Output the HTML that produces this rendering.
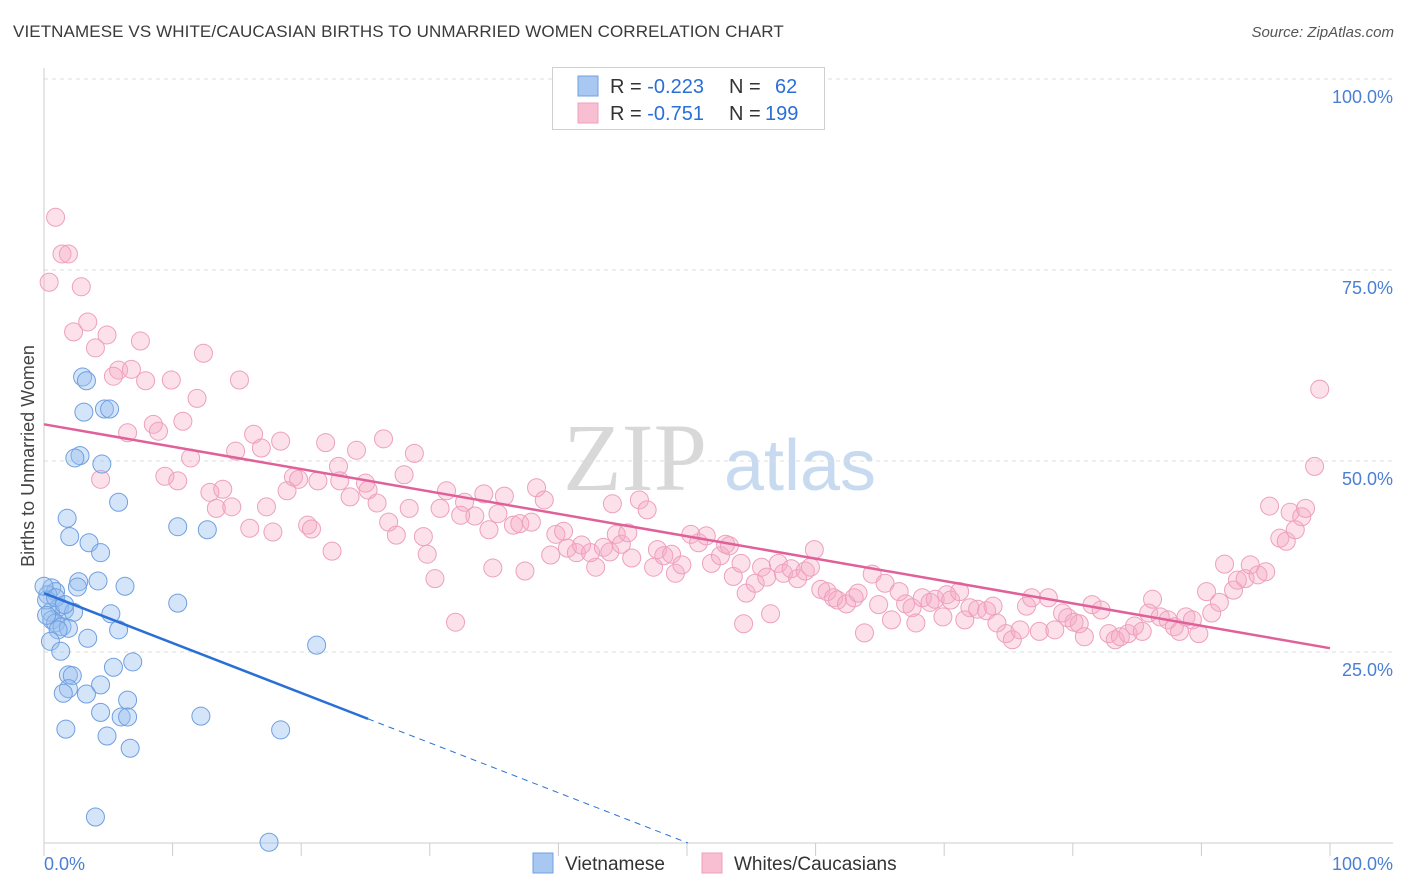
<!DOCTYPE html>
<html><head><meta charset="utf-8">
<style>
body{margin:0;background:#fff;font-family:"Liberation Sans",sans-serif;}
#wrap{position:relative;width:1406px;height:892px;overflow:hidden;}
.title{position:absolute;left:13px;top:22px;font-size:17px;color:#3a3a3a;letter-spacing:0.1px}
.src{position:absolute;right:12px;top:24px;font-size:15px;color:#555;font-style:italic}
</style></head><body>
<div id="wrap">
<div class="title">VIETNAMESE VS WHITE/CAUCASIAN BIRTHS TO UNMARRIED WOMEN CORRELATION CHART</div>
<div class="src">Source: ZipAtlas.com</div>
<svg id="chart" width="1406" height="892" style="position:absolute;left:0;top:0"></svg>
</div>
<script>
const yTicks=[25,50,75,100];
const yTickLabels=["25.0%","50.0%","75.0%","100.0%"];
const xTicks=[0,10,20,30,40,50,60,70,80,90,100];
const viePx=[[82,377],[87,381],[84,412],[105,409],[109,409],[80,456],[75,458],[102,464],[118,502],[67,518],[70,537],[89,543],[101,553],[178,527],[207,530],[79,582],[78,587],[98,581],[125,586],[52,588],[55,592],[48,595],[60,607],[64,610],[74,612],[50,612],[52,620],[56,623],[62,627],[68,628],[58,630],[111,614],[178,603],[118,630],[88,638],[50,641],[61,651],[316,645],[133,662],[114,667],[69,675],[72,676],[101,685],[69,689],[63,693],[86,694],[127,700],[100,712],[121,717],[127,717],[201,716],[66,729],[280,730],[107,736],[130,748],[95,817],[269,842],[47,600],[46,615],[44,586],[55,598],[65,605]];
const whPx=[[56,217],[62,254],[68,254],[49,282],[81,287],[88,322],[74,332],[107,335],[96,348],[140,341],[203,353],[119,370],[114,376],[131,369],[146,381],[171,380],[240,380],[197,398],[153,424],[183,421],[128,433],[158,431],[235,451],[254,434],[281,441],[261,448],[190,458],[165,476],[178,481],[101,479],[210,492],[223,489],[216,508],[232,507],[267,507],[250,528],[273,532],[307,525],[312,529],[332,551],[293,477],[299,479],[318,481],[287,491],[325,443],[339,466],[356,450],[384,439],[415,453],[404,475],[340,481],[365,483],[350,497],[368,490],[377,503],[389,522],[397,535],[409,508],[427,554],[423,537],[435,579],[455,622],[447,491],[440,508],[465,502],[475,516],[461,515],[484,494],[505,496],[498,514],[489,530],[513,525],[520,524],[531,522],[493,568],[525,571],[537,488],[544,500],[551,555],[556,534],[568,548],[563,531],[577,553],[581,545],[596,567],[590,553],[604,547],[610,552],[616,534],[622,544],[628,533],[613,504],[632,558],[640,500],[647,510],[653,567],[658,550],[664,556],[671,554],[676,573],[682,565],[691,534],[699,543],[706,536],[712,563],[720,556],[725,544],[729,546],[733,576],[741,563],[743,624],[746,593],[755,583],[762,567],[767,577],[771,614],[778,563],[783,573],[791,569],[798,579],[805,571],[811,567],[814,550],[821,589],[827,592],[833,598],[838,600],[846,604],[854,598],[858,593],[864,633],[872,574],[879,605],[885,583],[892,620],[899,592],[906,604],[912,608],[916,623],[922,598],[930,602],[935,599],[943,617],[947,595],[951,600],[960,592],[965,620],[970,608],[978,609],[986,611],[993,606],[997,623],[1006,634],[1013,640],[1020,630],[1026,606],[1032,598],[1040,631],[1048,598],[1055,630],[1062,613],[1068,618],[1074,622],[1079,624],[1084,637],[1092,605],[1101,610],[1109,634],[1115,640],[1120,637],[1128,634],[1135,626],[1142,631],[1149,613],[1152,599],[1160,617],[1168,620],[1175,627],[1180,631],[1186,617],[1193,620],[1199,634],[1206,592],[1212,613],[1220,602],[1224,564],[1233,590],[1238,580],[1245,579],[1250,565],[1258,575],[1266,572],[1270,506],[1280,538],[1286,541],[1290,512],[1295,530],[1302,517],[1306,508],[1314,466],[1320,389]];
const vieX=viePx.map(p=>+((p[0]-44)/12.86).toFixed(1));
const vieY=viePx.map(p=>+((843-p[1])/7.64).toFixed(1));
const whX=whPx.map(p=>+((p[0]-44)/12.86).toFixed(1));
const whY=whPx.map(p=>+((843-p[1])/7.64).toFixed(1));
const vieTrend=[32.7,-0.653];
const whTrend=[54.8,-0.293];

const X0=44,X1=1330,Y0=843,Y1=79;
const sx=v=>X0+(X1-X0)*v/100, sy=v=>Y0-(Y0-Y1)*v/100;
const svg=document.getElementById('chart');
const NS='http://www.w3.org/2000/svg';
function mk(t,a,p){const e=document.createElementNS(NS,t);for(const k in a)e.setAttribute(k,a[k]);(p||svg).appendChild(e);return e;}

let wm=mk('text',{x:635,y:490,'font-size':96,'font-family':'Liberation Serif,serif',fill:'#d8d8d8','text-anchor':'middle'});wm.textContent='ZIP';


let wm2=mk('text',{x:800,y:490,'font-size':72,'font-family':'Liberation Sans,sans-serif',fill:'#c8daf0','text-anchor':'middle'});wm2.textContent='atlas';



yTicks.forEach((t,i)=>{
 const g=mk('line',{x1:X0,x2:1393,y1:sy(t),y2:sy(t),stroke:'#dcdcdc','stroke-dasharray':'4,4'});
 
 
 const l=mk('text',{x:1393,y:sy(t)+24,'font-size':18,fill:'#4a7fd4','text-anchor':'end'});l.textContent=yTickLabels[i];
 
 
});
let ax=mk('line',{x1:X0,x2:1393,y1:Y0,y2:Y0,stroke:'#ccc'});


let ay=mk('line',{x1:X0,x2:X0,y1:68,y2:Y0,stroke:'#ccc'});


xTicks.forEach(t=>{const k=mk('line',{x1:sx(t),x2:sx(t),y1:Y0,y2:Y0+13,stroke:'#ccc'});
 
 });
let xl=mk('text',{x:44,y:870,'font-size':18,fill:'#4a7fd4'});xl.textContent='0.0%';


let xr=mk('text',{x:1393,y:870,'font-size':18,fill:'#4a7fd4','text-anchor':'end'});xr.textContent='100.0%';


let yt=mk('text',{x:0,y:0,'font-size':18,fill:'#444','text-anchor':'middle',transform:'translate(34,456) rotate(-90)'});yt.textContent='Births to Unmarried Women';



whX.forEach((x,i)=>{const c=mk('circle',{cx:sx(x),cy:sy(whY[i]),r:9,fill:'rgba(246,170,196,0.35)',stroke:'#eda0bd','stroke-width':1});
 
 });
vieX.forEach((x,i)=>{const c=mk('circle',{cx:sx(x),cy:sy(vieY[i]),r:9,fill:'rgba(150,190,240,0.4)',stroke:'#6f9fe0','stroke-width':1});
 
 });

let tw=mk('line',{x1:sx(0),y1:sy(whTrend[0]),x2:sx(100),y2:sy(whTrend[0]+whTrend[1]*100),stroke:'#e0609a','stroke-width':2.5});


const vEnd=25.2, vZero=-vieTrend[0]/vieTrend[1];
let tv=mk('line',{x1:sx(0),y1:sy(vieTrend[0]),x2:sx(vEnd),y2:sy(vieTrend[0]+vieTrend[1]*vEnd),stroke:'#2a6fd6','stroke-width':2.5});


let tvd=mk('line',{x1:sx(vEnd),y1:sy(vieTrend[0]+vieTrend[1]*vEnd),x2:sx(vZero),y2:sy(0),stroke:'#2a6fd6','stroke-width':1,'stroke-dasharray':'6,5'});



let lg=mk('rect',{x:552.5,y:67.5,width:272,height:62,fill:'#fff',stroke:'#d0d0d0'});


[['#a8c8f2','#6f9fe0','-0.223',' 62',86],['#f8bfd2','#eda0bd','-0.751','199',113]].forEach((r,i)=>{
 const s=mk('rect',{x:578,y:r[4]-10,width:20,height:20,fill:r[0],stroke:r[1]});
 
 
 const t=mk('text',{x:610,y:r[4]+7,'font-size':20,fill:'#333'});
 t.innerHTML='R = <tspan fill="#2a6fd6"> '+r[2]+'</tspan><tspan x="729">N = </tspan><tspan x="'+(i?765:775)+'" fill="#2a6fd6">'+r[3].trim()+'</tspan>';
 
 
});
[['#a8c8f2','#6f9fe0','Vietnamese',533],['#f8bfd2','#eda0bd','Whites/Caucasians',702]].forEach(r=>{
 const s=mk('rect',{x:r[3],y:853,width:20,height:20,fill:r[0],stroke:r[1]});
 
 
 const t=mk('text',{x:r[3]+32,y:870,'font-size':19,fill:'#333'});t.textContent=r[2];
 
 
});
</script>
</body></html>
